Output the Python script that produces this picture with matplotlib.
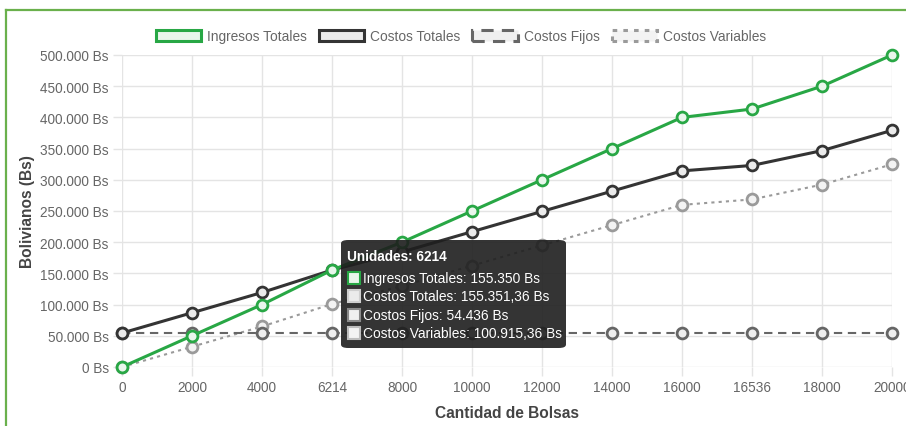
import matplotlib
matplotlib.use("Agg")
import matplotlib.pyplot as plt
from matplotlib.patches import Rectangle, FancyBboxPatch
from matplotlib.lines import Line2D
from matplotlib.ticker import FuncFormatter

plt.rcParams['font.family'] = ['Liberation Sans', 'DejaVu Sans']

# datos
unidades = ["0", "2000", "4000", "6214", "8000", "10000", "12000",
            "14000", "16000", "16536", "18000", "20000"]
ingresos = [0, 50000, 100000, 155350, 200000, 250000, 300000,
            350000, 400000, 413400, 450000, 500000]
costos_totales = [54436, 86916, 119396, 155351.36, 184356, 216836, 249316,
                  281796, 314276, 322981, 346756, 379236]
costos_fijos = [54436] * 12
costos_variables = [0, 32480, 64960, 100915.36, 129920, 162400, 194880,
                    227360, 259840, 268545, 292320, 324800]

tooltip_titulo = "Unidades: 6214"
tooltip_lineas = ["Ingresos Totales: 155.350 Bs",
                  "Costos Totales: 155.351,36 Bs",
                  "Costos Fijos: 54.436 Bs",
                  "Costos Variables: 100.915,36 Bs"]

W, H = 906, 427
fig = plt.figure(figsize=(W / 100, H / 100), dpi=100)
ax = fig.add_axes([122 / W, 1 - 368 / H, (892 - 122) / W, (368 - 56) / H])

x = list(range(len(unidades)))

series = [
    # label, data, color, face, lw, linestyle, zorder
    ("Ingresos Totales", ingresos, "#28a745", "#e9f6ec", 2.2, "-", 6),
    ("Costos Totales", costos_totales, "#343434", "#ebebeb", 2.2, "-", 5),
    ("Costos Fijos", costos_fijos, "#666666", "#efefef", 1.5, (0, (4, 2.7)), 4),
    ("Costos Variables", costos_variables, "#9a9a9a", "#f3f3f3", 1.5, (0, (1.5, 2)), 3),
]

for name, data, col, face, lw, ls, z in series:
    ax.plot(x, data, color=col, lw=lw, linestyle=ls, marker="o",
            markersize=7.8, markerfacecolor=face, markeredgecolor=col,
            markeredgewidth=2.0, zorder=z, clip_on=False)

ax.set_xlim(0, len(unidades) - 1)
ax.set_ylim(0, 500000)
ax.set_xticks(x)
ax.set_xticklabels(unidades)
ax.set_yticks(range(0, 500001, 50000))


def fmt_bs(v, pos):
    return "{:,.0f} Bs".format(v).replace(",", ".")


ax.yaxis.set_major_formatter(FuncFormatter(fmt_bs))

grid_col = "#e4e4e4"
ax.grid(True, color=grid_col, lw=1)
ax.set_axisbelow(True)
for s in ax.spines.values():
    s.set_visible(False)
ax.tick_params(axis="both", colors=grid_col, labelcolor="#666666",
               labelsize=9.8, length=6.5, width=1, pad=3)

ax.set_ylabel("Bolivianos (Bs)", fontsize=11.2, fontweight="bold",
              color="#444444", labelpad=4)
ax.set_xlabel("Cantidad de Bolsas", fontsize=11.2, fontweight="bold",
              color="#444444", labelpad=8)

# leyenda superior
handles = []
for name, data, col, face, lw, ls, z in series:
    handles.append(Rectangle((0, 0), 1, 1, facecolor=face, edgecolor=col,
                             linewidth=2.2, linestyle=ls))
fig.legend(handles, [s[0] for s in series], loc="center",
           bbox_to_anchor=(461 / W, 1 - 37 / H), ncol=4, frameon=False,
           fontsize=9.9, labelcolor="#666666", handlelength=3.3,
           handleheight=0.9, handletextpad=0.45, columnspacing=0.85)

# tooltip
box = FancyBboxPatch((341 / W, 1 - 349 / H), 225 / W, 108 / H,
                     boxstyle="round,pad=0,rounding_size=0.008",
                     transform=fig.transFigure, facecolor="#1e1e1e",
                     edgecolor="none", alpha=0.9, zorder=10)
fig.patches.append(box)
fig.text(347 / W, 1 - 257 / H, tooltip_titulo, color="white", fontsize=9.8,
         fontweight="bold", va="center", ha="left", zorder=11)
sq_cols = [("#28a745", "#e9f6ec"), ("#cfcfcf", "#ebebeb"),
           ("#8a8a8a", "#efefef"), ("#bdbdbd", "#f3f3f3")]
ys = [279, 297, 316, 334]
for txt, yy, (ec, fc) in zip(tooltip_lineas, ys, sq_cols):
    sq = Rectangle((348 / W, 1 - (yy + 6) / H), 12 / W, 12 / H,
                   transform=fig.transFigure, facecolor=fc, edgecolor=ec,
                   linewidth=1.5, zorder=11)
    fig.patches.append(sq)
    fig.text(363 / W, 1 - yy / H, txt, color="white", fontsize=9.9,
             va="center", ha="left", zorder=11)

# borde verde del contenedor
fig.add_artist(Line2D([6 / W, 1], [1 - 11 / H, 1 - 11 / H],
                      transform=fig.transFigure, color="#6ab04c", lw=1.6))
fig.add_artist(Line2D([6 / W, 6 / W], [0, 1 - 11 / H],
                      transform=fig.transFigure, color="#6ab04c", lw=1.6))

fig.savefig("out.png", dpi=100)
